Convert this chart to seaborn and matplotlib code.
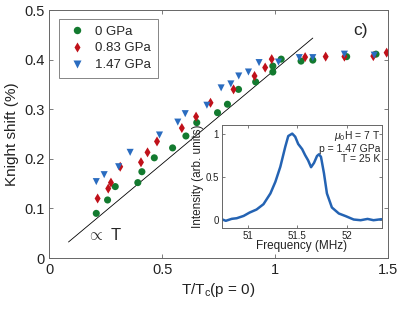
import numpy as np
import pandas as pd
import matplotlib
matplotlib.use("Agg")
import matplotlib.pyplot as plt
import seaborn as sns

# Knight shift vs reduced temperature, three pressures
t_0 = [0.208, 0.258, 0.292, 0.392, 0.410, 0.465, 0.546, 0.605, 0.653, 0.745,
       0.789, 0.838, 0.914, 0.990, 0.990, 1.027, 1.115, 1.167, 1.317, 1.447]
k_0 = [0.090, 0.117, 0.144, 0.152, 0.174, 0.202, 0.222, 0.246, 0.273, 0.293,
       0.310, 0.340, 0.355, 0.375, 0.387, 0.401, 0.397, 0.399, 0.406, 0.411]

t_083 = [0.214, 0.261, 0.273, 0.314, 0.406, 0.435, 0.477, 0.587, 0.650, 0.714,
         0.816, 0.909, 0.956, 0.985, 1.133, 1.224, 1.307, 1.435, 1.494]
k_083 = [0.120, 0.140, 0.152, 0.184, 0.193, 0.213, 0.235, 0.262, 0.285, 0.313,
         0.340, 0.367, 0.384, 0.401, 0.405, 0.406, 0.406, 0.407, 0.414]

t_147 = [0.208, 0.243, 0.307, 0.358, 0.488, 0.569, 0.602, 0.698, 0.761, 0.804,
         0.839, 0.882, 0.929, 1.015, 1.107, 1.167, 1.307, 1.439]
k_147 = [0.154, 0.168, 0.184, 0.213, 0.248, 0.274, 0.291, 0.308, 0.343, 0.351,
         0.367, 0.375, 0.394, 0.395, 0.404, 0.404, 0.411, 0.409]

labels = ["0 GPa", "0.83 GPa", "1.47 GPa"]

# linear guide (proportional to T)
lin_x = [0.085, 1.167]
lin_slope = 0.38

# inset NMR spectrum
freq = [50.74, 50.78, 50.84, 50.89, 50.96, 51.02, 51.09, 51.16, 51.23, 51.28,
        51.33, 51.38, 51.41, 51.45, 51.48, 51.51, 51.55, 51.58, 51.61, 51.64,
        51.67, 51.70, 51.72, 51.74, 51.77, 51.80, 51.85, 51.92, 51.99, 52.07,
        52.14, 52.21, 52.27, 52.35]
intensity = [0.005, -0.013, 0.010, 0.017, 0.044, 0.083, 0.118, 0.180, 0.305, 0.440,
             0.615, 0.848, 0.972, 1.000, 0.964, 0.880, 0.820, 0.750, 0.690, 0.610,
             0.660, 0.740, 0.760, 0.730, 0.540, 0.305, 0.142, 0.072, 0.041, 0.002,
             -0.006, 0.009, -0.006, 0.006]

df = pd.DataFrame({
    "t": t_0 + t_083 + t_147,
    "k": k_0 + k_083 + k_147,
    "p": [labels[0]] * len(t_0) + [labels[1]] * len(t_083) + [labels[2]] * len(t_147),
})

sns.set_style("ticks")
plt.rcParams["font.family"] = ["Liberation Sans", "DejaVu Sans"]
plt.rcParams["mathtext.fontset"] = "custom"
plt.rcParams["mathtext.rm"] = "Liberation Sans"
plt.rcParams["mathtext.it"] = "Liberation Sans:italic"

spine_c = "#666666"
colors = {labels[0]: "#137a2f", labels[1]: "#c0111a", labels[2]: "#2a6cc0"}
markers = {labels[0]: "o", labels[1]: "d", labels[2]: "v"}

fig = plt.figure(figsize=(3.99, 3.13), dpi=100)
ax = fig.add_axes([0.1236, 0.1757, 0.8488, 0.7923])

xs = np.array(lin_x)
ax.plot(xs, lin_slope * xs, color="black", lw=0.6, zorder=1)

sns.scatterplot(data=df, x="t", y="k", hue="p", style="p", palette=colors,
                markers=markers, s=26, edgecolor="none", ax=ax, zorder=3)

ax.set_xlim(0, 1.5)
ax.set_ylim(0, 0.5)
ax.set_xticks([0, 0.5, 1, 1.5])
ax.set_xticklabels(["0", "0.5", "1", "1.5"])
ax.set_yticks([0, 0.1, 0.2, 0.3, 0.4, 0.5])
ax.set_yticklabels(["0", "0.1", "0.2", "0.3", "0.4", "0.5"])
ax.tick_params(direction="in", top=True, right=True, length=3, width=0.6,
               colors=spine_c, labelcolor="#222222", labelsize=10.5)
for s in ax.spines.values():
    s.set_color(spine_c)
    s.set_linewidth(0.7)
ax.set_xlabel("T/T$_\\mathregular{c}$(p = 0)", fontsize=11, color="#222222", labelpad=3)
ax.set_ylabel("Knight shift (%)", fontsize=11, color="#222222", labelpad=4)

leg = ax.legend(loc="upper left", bbox_to_anchor=(0.03, 0.965), borderaxespad=0,
                fontsize=9.5, frameon=True, fancybox=False, handletextpad=0.6,
                borderpad=0.5, labelspacing=0.35, handlelength=1.6,
                markerscale=1.05)
leg.get_frame().set_edgecolor(spine_c)
leg.get_frame().set_linewidth(0.7)

ax.text(1.38, 0.458, "c)", fontsize=12.5, ha="center", va="center")
ax.text(0.165, 0.047, "$\\propto$ T", fontsize=12, ha="left", va="center")

# inset
ins = fig.add_axes([0.556, 0.2706, 0.401, 0.330])
sns.lineplot(x=freq, y=intensity, ax=ins, color="#2463b3", lw=1.8)
ins.set_xlim(50.74, 52.354)
ins.set_ylim(-0.1, 1.1)
ins.set_xticks([51, 51.5, 52])
ins.set_xticklabels(["51", "51.5", "52"])
ins.set_yticks([0, 0.5, 1])
ins.set_yticklabels(["0", "0.5", "1"])
ins.tick_params(direction="in", top=True, right=True, length=2.5, width=0.6,
                colors=spine_c, labelcolor="#222222", labelsize=7, pad=2)
for s in ins.spines.values():
    s.set_color(spine_c)
    s.set_linewidth(0.7)
ins.set_xlabel("Frequency (MHz)", fontsize=8.5, color="#222222", labelpad=-0.5)
ins.set_ylabel("Intensity (arb. units)", fontsize=8.5, color="#222222", labelpad=1)
ins.text(0.99, 0.96, "$\\mathit{\\mu}_0$H = 7 T\np = 1.47 GPa\nT = 25 K",
         transform=ins.transAxes, ha="right", va="top", fontsize=7.5,
         linespacing=1.05)

fig.savefig("out.png", dpi=100)
